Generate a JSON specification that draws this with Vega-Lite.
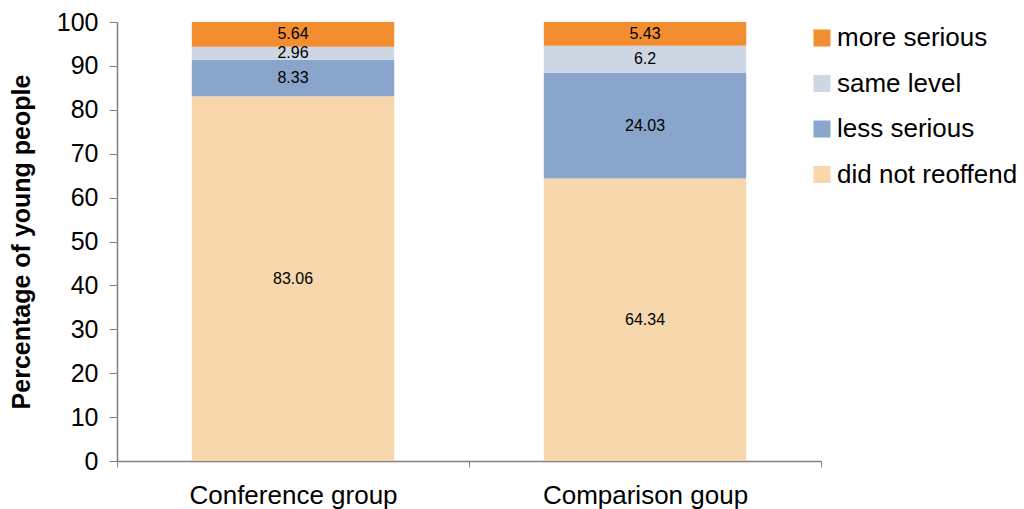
{
  "$schema": "https://vega.github.io/schema/vega-lite/v6.json",
  "width": 704,
  "height": 439,
  "autosize": {"type": "none"},
  "padding": {"left": 117, "top": 22, "right": 203, "bottom": 48},
  "background": "white",
  "config": {
    "view": {"stroke": null},
    "font": "Liberation Sans",
    "axis": {"grid": false, "domainColor": "#808080", "tickColor": "#808080", "labelColor": "#000000", "labelFont": "Liberation Sans", "titleFont": "Liberation Sans"}
  },
  "data": {
    "values": [
      {"group": "Conference group", "outcome": "did not reoffend", "order": 1, "value": 83.06},
      {"group": "Conference group", "outcome": "less serious", "order": 2, "value": 8.33},
      {"group": "Conference group", "outcome": "same level", "order": 3, "value": 2.96},
      {"group": "Conference group", "outcome": "more serious", "order": 4, "value": 5.64},
      {"group": "Comparison goup", "outcome": "did not reoffend", "order": 1, "value": 64.34},
      {"group": "Comparison goup", "outcome": "less serious", "order": 2, "value": 24.03},
      {"group": "Comparison goup", "outcome": "same level", "order": 3, "value": 6.2},
      {"group": "Comparison goup", "outcome": "more serious", "order": 4, "value": 5.43}
    ]
  },
  "transform": [
    {"stack": "value", "groupby": ["group"], "sort": [{"field": "order", "order": "ascending"}], "as": ["y0", "y1"]},
    {"calculate": "(datum.y0 + datum.y1) / 2", "as": "ymid"}
  ],
  "encoding": {
    "x": {
      "field": "group",
      "type": "nominal",
      "sort": ["Conference group", "Comparison goup"],
      "scale": {"paddingInner": 0, "paddingOuter": 0},
      "axis": {"title": null, "labelAngle": 0, "labelFontSize": 26, "labelLimit": 0, "labelPadding": 15, "tickBand": "extent", "tickSize": 6, "domainWidth": 1.5}
    }
  },
  "layer": [
    {
      "mark": {"type": "bar", "width": {"band": 0.575}},
      "encoding": {
        "y": {
          "field": "y0",
          "type": "quantitative",
          "scale": {"domain": [0, 100], "nice": false},
          "axis": {
            "title": "Percentage of young people",
            "titleFontSize": 25,
            "titleFontWeight": "bold",
            "titlePadding": 22,
            "titleColor": "#000000",
            "values": [0, 10, 20, 30, 40, 50, 60, 70, 80, 90, 100],
            "labelFontSize": 25,
            "labelPadding": 11,
            "tickSize": 8,
            "domainWidth": 1.5
          }
        },
        "y2": {"field": "y1"},
        "color": {
          "field": "outcome",
          "type": "nominal",
          "scale": {
            "domain": ["more serious", "same level", "less serious", "did not reoffend"],
            "range": ["#F28E30", "#CDD7E3", "#89A5CB", "#F8D7AD"]
          },
          "legend": {
            "title": null,
            "orient": "none",
            "legendX": 692,
            "legendY": 3,
            "padding": 0,
            "symbolType": "square",
            "symbolSize": 289,
            "symbolStrokeWidth": 0,
            "labelFontSize": 26,
            "labelLimit": 0,
            "labelOffset": 2,
            "labelColor": "#000000",
            "rowPadding": 19.5
          }
        }
      }
    },
    {
      "mark": {"type": "text", "fontSize": 16, "color": "#000000", "baseline": "middle"},
      "encoding": {
        "y": {"field": "ymid", "type": "quantitative"},
        "text": {"field": "value", "type": "nominal"}
      }
    }
  ]
}
